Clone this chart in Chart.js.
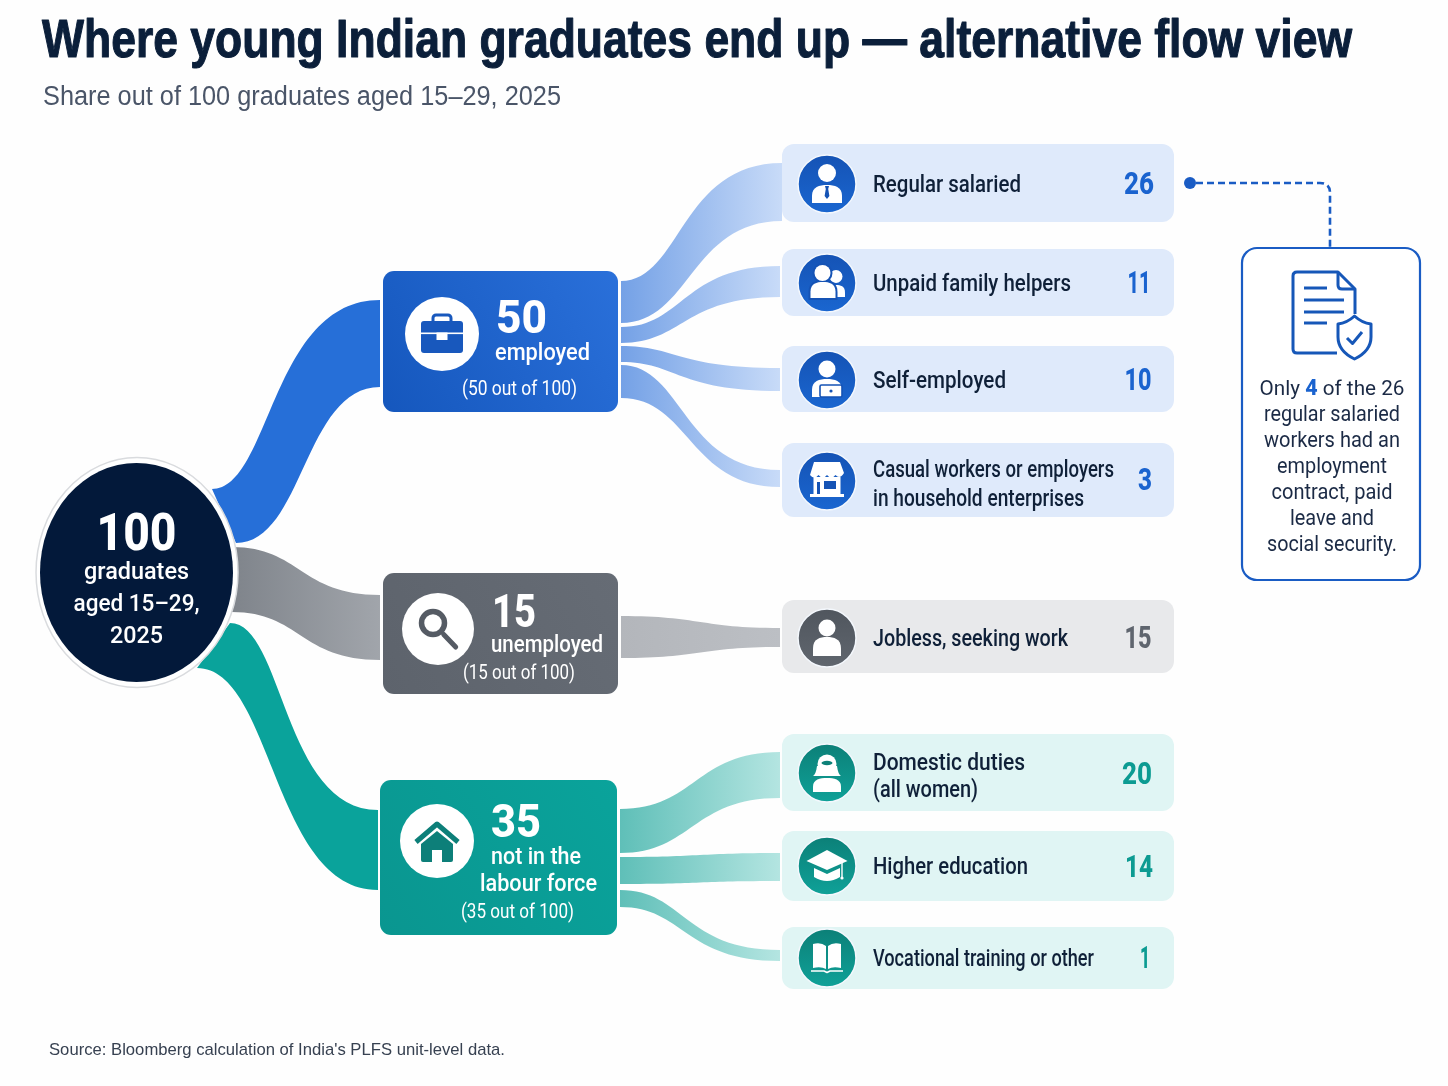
<!DOCTYPE html>
<html><head><meta charset="utf-8">
<style>html,body{margin:0;padding:0;background:#fefefe}canvas{display:block}</style>
<script src="https://cdn.jsdelivr.net/npm/chart.js@4"></script>
</head><body><canvas id="c" width="1448" height="1086" style="width:1448px;height:1086px"></canvas>
<script>
// ---------- DATA ----------
const titleText = "Where young Indian graduates end up — alternative flow view";
const subtitleText = "Share out of 100 graduates aged 15–29, 2025";
const sourceText = "Source: Bloomberg calculation of India's PLFS unit-level data.";
const rootValue = 100;
const rootLines = ["graduates", "aged 15–29,", "2025"];
const stageValues = [50, 15, 35];
const stageLines = [["employed"], ["unemployed"], ["not in the", "labour force"]];
const outcomeLabels = [["Regular salaried"], ["Unpaid family helpers"], ["Self-employed"],
  ["Casual workers or employers", "in household enterprises"], ["Jobless, seeking work"],
  ["Domestic duties", "(all women)"], ["Higher education"], ["Vocational training or other"]];
const outcomeValues = [26, 11, 10, 3, 15, 20, 14, 1];
const outcomeStage = [0, 0, 0, 0, 1, 2, 2, 2];
const noteHighlight = 4;
const noteLines = ["regular salaried", "workers had an", "employment", "contract, paid", "leave and", "social security."];

// ---------- LAYOUT (axis units) ----------
const palette = [
  {node0:"#1557bd",node1:"#2a70da",flow:"#266fd8",c0:"#74a1e6",c1:"#c8dbf8",card:"#dfeafb",badge0:"#1a66d0",badge1:"#1553b5",num:"#1a63cf"},
  {node0:"#5d636c",node1:"#666c75",flow:"#8b8f96",c0:"#b3b6bb",c1:"#bcbfc4",card:"#e8e9eb",badge0:"#60666e",badge1:"#50565e",num:"#5f656e"},
  {node0:"#0a9690",node1:"#0aa39b",flow:"#0aa39b",c0:"#5fbfb8",c1:"#b4e5e1",card:"#e0f5f4",badge0:"#0fa198",badge1:"#0c8078",num:"#0c9b92"}];
const stageBox = [[383,271,618,412],[383,573,618,694],[380,780,617,935]];
const stageCircle = [[442,334,37],[438,629,36],[437,841,37]];
const stageNumPos = [[496,333,51],[492,627,44],[491,837,50]];
const stageTextPos = [[[495,360,95]],[[491,652,112]],[[491,864,90],[480,891,117]]];
const stageNotePos = [[462,395,115],[463,679,112],[461,918,113]];
// [xTop,yTop,xBot,yBot, xEndTop,yEndTop,xEndBot,yEndBot, sTop,sBot]
const rootFlows = [
  [212,489,236,543, 380,300,380,387, .35,.47],
  [232,547,232,612, 380,595,380,660, .46,.46],
  [230,623,197,668, 378,810,378,890, .36,.42]];
const stageFlows = [
  [621,281,621,323, 782,163,782,221, .37,.43],
  [621,327,621,343, 780,266,780,297, .39,.39],
  [621,346,621,362, 780,368,780,391, .35,.35],
  [621,365,621,398, 780,470,780,487, .39,.43],
  [621,616,621,658, 780,628,780,647, .5,.5],
  [620,809,620,853, 780,752,780,798, .47,.45],
  [620,857,620,884, 780,853,780,881, .5,.5],
  [620,890,620,907, 780,950,780,961, .4,.4]];
const cardX = [782, 1174];
const cardY = [[144,222],[249,316],[346,412],[443,517],[600,673],[734,811],[831,901],[927,989]];
const badgeX = 827, badgeR = 29;
const badgeY = [184,283,380,481,638,773,866,958];
const labelX = 873;
const labelPos = [[[192,148]],[[291,198]],[[388,133]],[[477,241],[506,211]],[[646,195]],[[770,152],[797,105]],[[874,155]],[[966,221]]];
const numPos = [[1139,194],[1139,293],[1138,390],[1145,490],[1138,648],[1137,784],[1139,877],[1145,968]];
const numWidth = [30,23,27,14,27,30,28,10];
const rootEllipse = [137,572.5,101,115, 136.5,572.5,96.5,109.5];
const noteBox = [1242,248,1420,580];
const noteX = 1332, noteBase = [421,447,473,499,525,551], noteWidth = [136,136,110,121,84,130];
const FONT = "Roboto, 'Liberation Sans', sans-serif";
const HEAD = "'Liberation Sans', Arial, sans-serif";

// ---------- HELPERS ----------
function txt(c,s,x,y,font,color,align,maxW){
  c.font=font;c.fillStyle=color;c.textAlign=align||"left";c.textBaseline="alphabetic";
  if(maxW)c.fillText(s,x,y,maxW);else c.fillText(s,x,y);
}
function edge(c,x0,y0,x1,y1,s,move){
  const cx=x0+s*(x1-x0);
  if(move)c.moveTo(x0,y0);else c.lineTo(x0,y0);
  c.bezierCurveTo(cx,y0,cx,y1,x1,y1);
}
function ribbon(c,f,X,Y,fill){
  const [a,b,d,e,g,h,i,j,s1,s2]=f;
  c.beginPath();
  edge(c,X(a),Y(b),X(g),Y(h),s1,true);
  c.lineTo(X(i),Y(j));
  const cx=X(d)+s2*(X(i)-X(d));
  c.bezierCurveTo(cx,Y(j),cx,Y(e),X(d),Y(e));
  c.closePath();c.fillStyle=fill;c.fill();
}
function bust(c,cx,top,hw,bot){
  const h=bot-top;
  c.beginPath();c.moveTo(cx-hw,bot);c.lineTo(cx-hw,top+h*.6);
  c.bezierCurveTo(cx-hw,top+h*.1,cx-hw*.5,top,cx,top);
  c.bezierCurveTo(cx+hw*.5,top,cx+hw,top+h*.1,cx+hw,top+h*.6);
  c.lineTo(cx+hw,bot);c.closePath();c.fill();
}
function dot(c,x,y,r){c.beginPath();c.arc(x,y,r,0,Math.PI*2);c.fill();}
const icons = [
 (c,k)=>{c.fillStyle="#fff";dot(c,0,-11,9);bust(c,0,1,15,19);c.fillStyle=k;
   c.beginPath();c.moveTo(-2,2);c.lineTo(2,2);c.lineTo(1.2,5);c.lineTo(2.4,12);c.lineTo(0,15);c.lineTo(-2.4,12);c.lineTo(-1.2,5);c.closePath();c.fill();},
 (c,k)=>{c.fillStyle="#fff";dot(c,9,-6.5,6.5);bust(c,9,2,9,14);c.fillStyle=k;dot(c,-4.5,-10,10);bust(c,-4,-3,14.5,17);
   c.fillStyle="#fff";dot(c,-4.5,-10,8);bust(c,-4,-1,12.5,15);},
 (c,k)=>{c.fillStyle="#fff";dot(c,0,-11,8.5);bust(c,0,-1,15,17);c.strokeStyle=k;c.lineWidth=1.6;c.fillStyle="#fff";
   c.beginPath();c.roundRect(-7,5,22,12,1.5);c.fill();c.stroke();c.fillStyle=k;dot(c,4,11,1.6);},
 (c,k)=>{c.fillStyle="#fff";c.beginPath();c.moveTo(-13,-19);c.lineTo(13,-19);c.lineTo(17,-8);
   for(let i=0;i<4;i++){const x=17-8.5*i;c.quadraticCurveTo(x-4.25,-1,x-8.5,-6);}
   c.closePath();c.fill();
   c.fillRect(-13.5,-4,27,17);c.fillRect(-17,13,34,3);c.fillStyle=k;c.fillRect(-3,0,12,8);c.fillRect(-10,1,3,12);},
 (c,k)=>{c.fillStyle="#fff";dot(c,0,-10,8.5);bust(c,0,-1,14,18);},
 (c,k)=>{c.fillStyle="#fff";dot(c,0,-9,9.5);c.beginPath();c.moveTo(-10,-7);c.quadraticCurveTo(-11,1,-14,3);c.lineTo(14,3);c.quadraticCurveTo(11,1,10,-7);c.closePath();c.fill();
   bust(c,0,5,14,19);c.fillStyle=k;c.beginPath();c.ellipse(0,-10,5.5,2.2,0,0,Math.PI*2);c.fill();},
 (c,k)=>{c.fillStyle="#fff";c.beginPath();c.moveTo(0,-16);c.lineTo(20.5,-5);c.lineTo(0,4);c.lineTo(-20.5,-5);c.closePath();c.fill();
   c.beginPath();c.moveTo(-13,2);c.lineTo(0,8);c.lineTo(13,2);c.lineTo(13,11);c.quadraticCurveTo(0,19,-13,11);c.closePath();c.fill();
   c.strokeStyle="#fff";c.lineWidth=1.4;c.beginPath();c.moveTo(15,-3);c.lineTo(15,12);c.stroke();dot(c,15,12,1.6);},
 (c,k)=>{c.fillStyle="#fff";c.beginPath();c.moveTo(-14,-14);c.quadraticCurveTo(-6,-16,-1,-12);c.lineTo(-1,11);c.quadraticCurveTo(-6,8,-14,10);c.closePath();c.fill();
   c.beginPath();c.moveTo(14,-14);c.quadraticCurveTo(6,-16,1,-12);c.lineTo(1,11);c.quadraticCurveTo(6,8,14,10);c.closePath();c.fill();
   c.strokeStyle="#fff";c.lineWidth=1.6;c.beginPath();c.moveTo(-16,13);c.lineTo(-3,13);c.lineTo(0,14.5);c.lineTo(3,13);c.lineTo(16,13);c.stroke();}
];
const stageIcons = [
 (c)=>{const k="#1858bd";c.strokeStyle=k;c.lineWidth=3;c.beginPath();c.roundRect(-9,-19,18,12,3);c.stroke();
   c.fillStyle=k;c.beginPath();c.roundRect(-21,-13,42,32,3);c.fill();
   c.fillStyle="#fff";c.fillRect(-21,-1.5,42,1.6);c.fillRect(-5.5,-1.5,11,7.5);},
 (c)=>{const k="#555b64";c.strokeStyle=k;c.lineWidth=5.5;c.beginPath();c.arc(-5,-6,11.5,0,Math.PI*2);c.stroke();
   c.lineCap="round";c.lineWidth=5;c.beginPath();c.moveTo(5.7,5.5);c.lineTo(17.7,18);c.stroke();c.lineCap="butt";},
 (c)=>{const k="#0d7f79";c.strokeStyle=k;c.lineWidth=5;c.beginPath();c.moveTo(-21,1);c.lineTo(0,-17);c.lineTo(21,1);c.stroke();
   c.fillStyle=k;c.beginPath();c.moveTo(0,-10);c.lineTo(16,3);c.lineTo(16,19);c.quadraticCurveTo(16,21,14,21);c.lineTo(-14,21);c.quadraticCurveTo(-16,21,-16,19);c.lineTo(-16,3);c.closePath();c.fill();
   c.fillStyle="#fff";c.fillRect(-5,9,10,12);}
];
function noteIcon(c,X,Y){
  const k="#1657b8";c.strokeStyle=k;c.lineWidth=3;c.lineJoin="round";
  c.beginPath();c.moveTo(X(1337),Y(353));c.lineTo(X(1297),Y(353));c.quadraticCurveTo(X(1293),Y(353),X(1293),Y(349));
  c.lineTo(X(1293),Y(276));c.quadraticCurveTo(X(1293),Y(272),X(1297),Y(272));c.lineTo(X(1338),Y(272));c.lineTo(X(1355),Y(289));c.lineTo(X(1355),Y(314));c.stroke();
  c.beginPath();c.moveTo(X(1338),Y(272));c.lineTo(X(1338),Y(285));c.quadraticCurveTo(X(1338),Y(289),X(1342),Y(289));c.lineTo(X(1355),Y(289));c.stroke();
  [[1304,1327,288],[1304,1344,300],[1304,1344,312],[1304,1327,323]].forEach(l=>{c.beginPath();c.moveTo(X(l[0]),Y(l[2]));c.lineTo(X(l[1]),Y(l[2]));c.stroke();});
  c.fillStyle="#fff";c.beginPath();c.moveTo(X(1354.5),Y(316));c.quadraticCurveTo(X(1362),Y(323),X(1371),Y(324));c.lineTo(X(1371),Y(337));
  c.quadraticCurveTo(X(1371),Y(351),X(1354.5),Y(359));c.quadraticCurveTo(X(1338),Y(351),X(1338),Y(337));c.lineTo(X(1338),Y(324));c.quadraticCurveTo(X(1347),Y(323),X(1354.5),Y(316));c.closePath();c.fill();c.stroke();
  c.beginPath();c.moveTo(X(1347),Y(338));c.lineTo(X(1352.5),Y(343.5));c.lineTo(X(1362),Y(332));c.stroke();
}

// ---------- PLUGIN ----------
const flowPlugin = {
 id:"flow",
 beforeDatasetsDraw(chart){
  const c=chart.ctx,X=v=>chart.scales.x.getPixelForValue(v),Y=v=>chart.scales.y.getPixelForValue(v);
  c.save();
  rootFlows.forEach((f,i)=>{
    let fill=palette[i].flow;
    if(i===1){const g=c.createLinearGradient(X(f[0]),0,X(f[4]),0);g.addColorStop(0,"#7f848b");g.addColorStop(1,"#a1a5ab");fill=g;}
    ribbon(c,f,X,Y,fill);
  });
  stageFlows.forEach((f,i)=>{
    const p=palette[outcomeStage[i]],g=c.createLinearGradient(X(f[0]),0,X(f[4]),0);
    g.addColorStop(0,p.c0);g.addColorStop(1,p.c1);ribbon(c,f,X,Y,g);
  });
  stageBox.forEach((b,i)=>{
    const g=c.createLinearGradient(X(b[0]),Y(b[3]),X(b[2]),Y(b[1]));
    g.addColorStop(0,palette[i].node0);g.addColorStop(1,palette[i].node1);
    c.fillStyle=g;c.beginPath();c.roundRect(X(b[0]),Y(b[1]),X(b[2])-X(b[0]),Y(b[3])-Y(b[1]),11);c.fill();
  });
  cardY.forEach((y,i)=>{
    c.fillStyle=palette[outcomeStage[i]].card;c.beginPath();
    c.roundRect(X(cardX[0]),Y(y[0]),X(cardX[1])-X(cardX[0]),Y(y[1])-Y(y[0]),12);c.fill();
  });
  const e=rootEllipse;
  c.fillStyle="#fff";c.strokeStyle="#d9dbde";c.lineWidth=1.5;c.beginPath();c.ellipse(X(e[0]),Y(e[1]),e[2],e[3],0,0,Math.PI*2);c.fill();c.stroke();
  c.fillStyle="#03193a";c.beginPath();c.ellipse(X(e[4]),Y(e[5]),e[6],e[7],0,0,Math.PI*2);c.fill();
  c.restore();
 },
 afterDatasetsDraw(chart){
  const c=chart.ctx,X=v=>chart.scales.x.getPixelForValue(v),Y=v=>chart.scales.y.getPixelForValue(v);
  c.save();
  // headings
  txt(c,titleText,42,57,"700 53px "+HEAD,"#0b1f3a","left",1310);
  c.strokeStyle="#0b1f3a";c.lineWidth=1.1;c.lineJoin="round";c.strokeText(titleText,42,57,1310);
  txt(c,subtitleText,43,105,"400 27px "+HEAD,"#4a5568","left",518);
  txt(c,sourceText,49,1055,"400 17px "+HEAD,"#374151","left",456);
  // root
  txt(c,String(rootValue),X(136.5),Y(550),"800 52px "+FONT,"#fff","center",80);
  [579,611,643].forEach((y,i)=>txt(c,rootLines[i],X(136.5),Y(y),"500 24px "+FONT,"#fff","center",[105,126,53][i]));
  // stages
  stageValues.forEach((v,i)=>{
    c.save();c.translate(X(stageCircle[i][0]),Y(stageCircle[i][1]));stageIcons[i](c);c.restore();
    const n=stageNumPos[i];txt(c,String(v),X(n[0]),Y(n[1]),"800 46px "+FONT,"#fff","left",n[2]);
    stageLines[i].forEach((s,j)=>{const p=stageTextPos[i][j];txt(c,s,X(p[0]),Y(p[1]),"500 24px "+FONT,"#fff","left",p[2]);});
    const q=stageNotePos[i];txt(c,`(${v} out of ${rootValue})`,X(q[0]),Y(q[1]),"400 20px "+FONT,"#fff","left",q[2]);
  });
  // outcomes
  outcomeValues.forEach((v,i)=>{
    const p=palette[outcomeStage[i]];
    c.save();c.translate(X(badgeX),Y(badgeY[i]));icons[i](c,p.badge1);c.restore();
    outcomeLabels[i].forEach((s,j)=>{const l=labelPos[i][j];txt(c,s,X(labelX),Y(l[0]),"500 24px "+FONT,"#0f2038","left",l[1]);});
    txt(c,String(v),X(numPos[i][0]),Y(numPos[i][1]),"800 31px "+FONT,p.num,"center",numWidth[i]);
  });
  // callout
  c.strokeStyle="#1a5cc4";c.fillStyle="#1a5cc4";c.lineWidth=2.6;c.setLineDash([7,4]);
  c.beginPath();c.moveTo(X(1196),Y(183));c.lineTo(X(1320),Y(183));c.quadraticCurveTo(X(1330),Y(183),X(1330),Y(193));c.lineTo(X(1330),Y(248));c.stroke();
  c.setLineDash([]);dot(c,X(1190),Y(183),6);
  c.lineWidth=2.2;c.fillStyle="rgba(255,255,255,.9)";c.beginPath();c.roundRect(X(noteBox[0]),Y(noteBox[1]),X(noteBox[2])-X(noteBox[0]),Y(noteBox[3])-Y(noteBox[1]),15);c.fill();c.stroke();
  noteIcon(c,X,Y);
  // first note line with bold highlight
  const f0="400 21.5px "+FONT,f1="800 21.5px "+FONT,f2="400 20.7px "+FONT,a="Only ",h=String(noteHighlight),b=" of the "+outcomeValues[0];
  c.font=f2;const wa=c.measureText(a).width,wb=c.measureText(b).width;c.font=f1;const wh=c.measureText(h).width;
  let x=X(noteX)-(wa+wh+wb)/2;
  txt(c,a,x,Y(395),f2,"#1b2a45");x+=wa;txt(c,h,x,Y(395),f1,"#1a63cf");x+=wh;txt(c,b,x,Y(395),f2,"#1b2a45");
  noteLines.forEach((s,i)=>txt(c,s,X(noteX),Y(noteBase[i]),f0,"#1b2a45","center",noteWidth[i]));
  c.restore();
 }
};

// ---------- CHART ----------
const cx=document.getElementById("c").getContext("2d");
function badgeFill(p,y){const g=cx.createLinearGradient(0,y-badgeR,0,y+badgeR);g.addColorStop(0,p.badge1);g.addColorStop(1,p.badge0);return g;}
new Chart(cx,{
 type:"scatter",
 data:{datasets:[
  {label:"Outcomes",data:outcomeValues.map((v,i)=>({x:badgeX,y:badgeY[i],value:v})),
   pointRadius:badgeR,pointHoverRadius:badgeR,borderWidth:1.5,borderColor:"#f4f8fd",
   backgroundColor:outcomeStage.map((s,i)=>badgeFill(palette[s],badgeY[i]))},
  {label:"Stages",data:stageValues.map((v,i)=>({x:stageCircle[i][0],y:stageCircle[i][1],value:v})),
   pointRadius:stageCircle.map(s=>s[2]),borderWidth:0,backgroundColor:"#ffffff"}
 ]},
 options:{responsive:false,animation:false,devicePixelRatio:1,
  layout:{padding:0,autoPadding:false},
  plugins:{legend:{display:false},tooltip:{enabled:false}},
  scales:{x:{type:"linear",min:0,max:1448,display:false},y:{type:"linear",min:0,max:1086,reverse:true,display:false}}},
 plugins:[flowPlugin]
});
</script></body></html>
